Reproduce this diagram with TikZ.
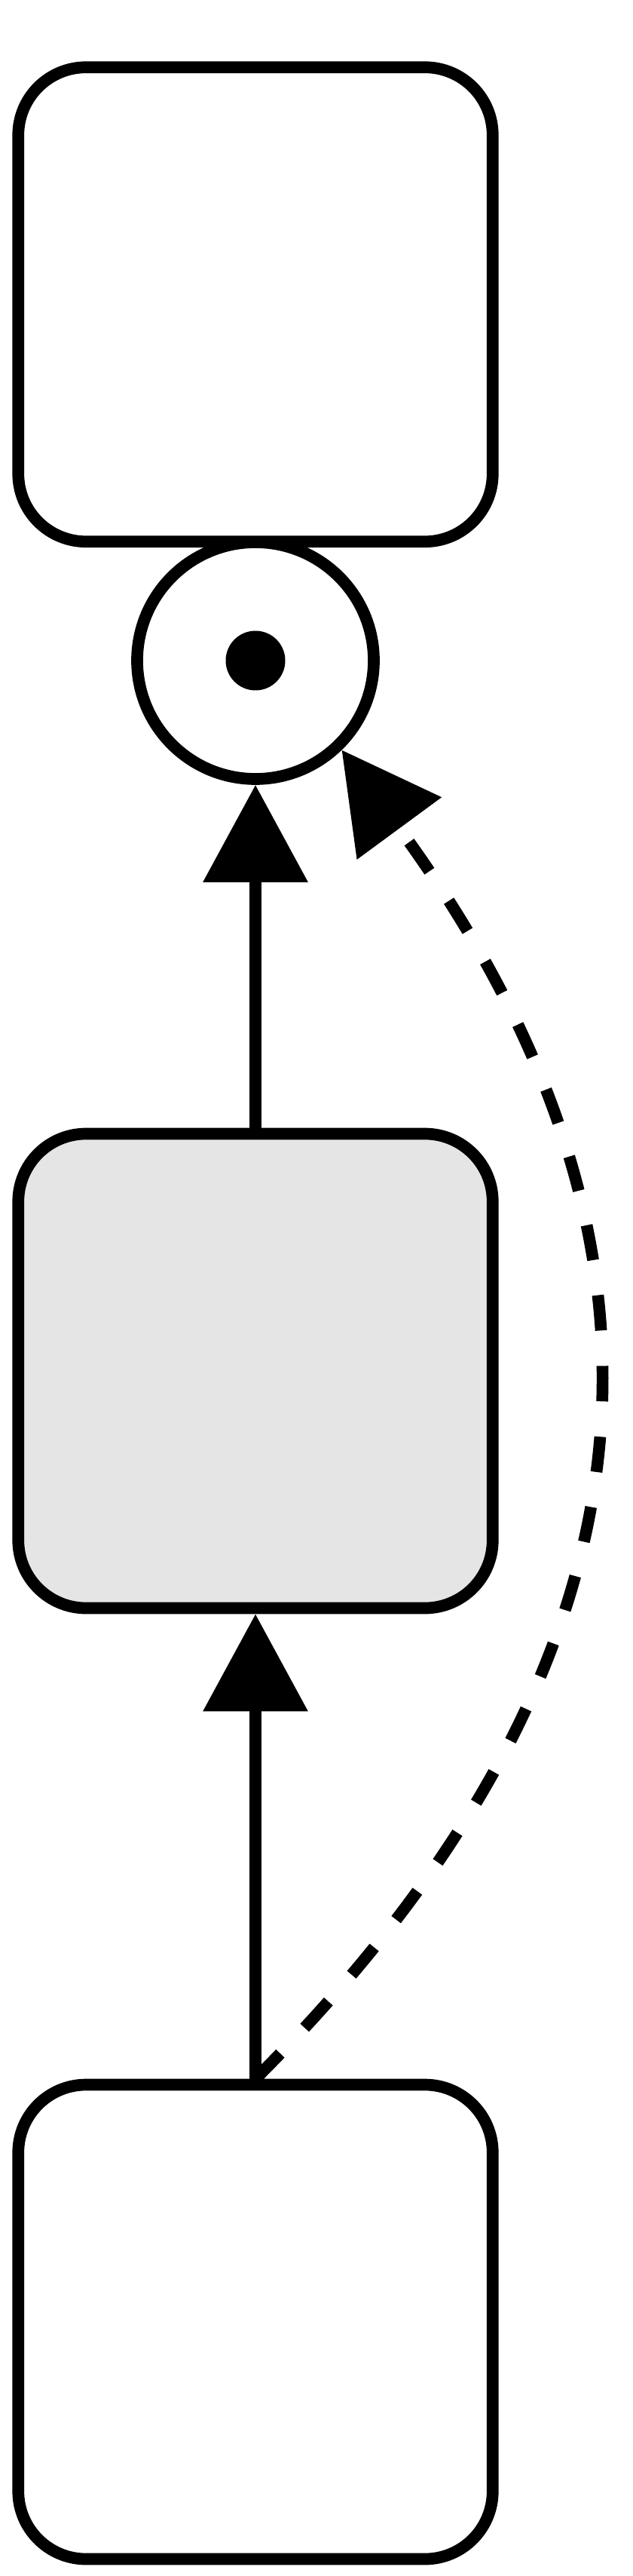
\documentclass[tikz,border=0pt]{standalone}
\usetikzlibrary{arrows.meta}
\tikzset{
  >={Triangle[length=1.29cm,width=1.355cm]},
}
\tikzstyle{block}=[draw,line width=4.47pt,rounded corners=.9cm,minimum width=6.295cm,minimum height=6.29cm,inner sep=0pt,fill=white]
\tikzstyle{port}=[draw,circle,line width=4.47pt,minimum size=3.14cm,inner sep=0pt,fill=white]
\tikzstyle{dot}=[circle,fill,minimum size=.79cm,inner sep=0pt]
\tikzstyle{flow}=[line width=4.47pt,->]
\tikzstyle{feedback}=[line width=4.47pt,->,dash pattern=on .47cm off .47cm]

\begin{document}
\begin{tikzpicture}
    \useasboundingbox[fill=white] (0,0) rectangle (8.39,-34.16);
    \node[block] (upper) at (3.39,-4.0375) {};
    \node[port] (junct) at (3.39,-8.76) {};
    \node[dot] (core) at (junct) {};
    \node[block,fill=gray!20] (middle) at (3.39,-18.18) {};
    \node[block] (lower) at (3.39,-30.79) {};
    \draw[flow] (middle) -- (junct);
    \draw[flow] (lower) -- (middle);
    \draw[feedback] (lower.north) .. controls +(45:7) and +(-53.7:8.9) .. (junct.-46);
\end{tikzpicture}
\end{document}
